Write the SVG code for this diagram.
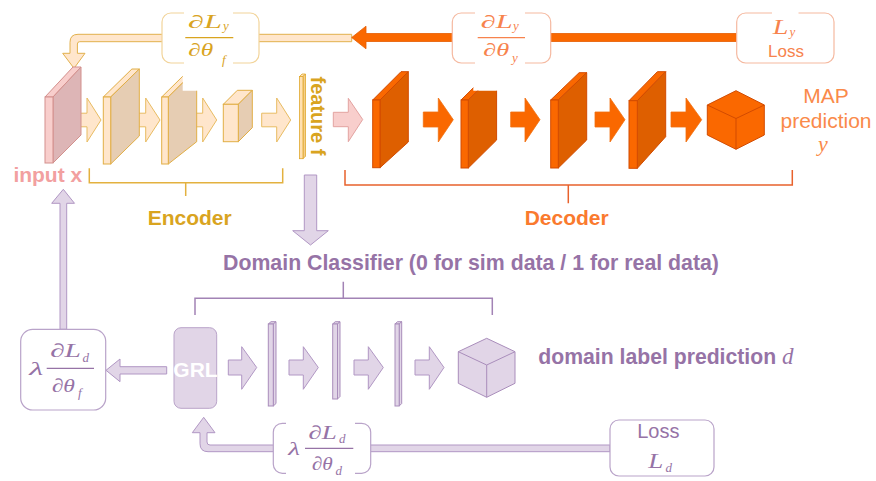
<svg xmlns="http://www.w3.org/2000/svg" width="876" height="481" viewBox="0 0 876 481">
  <style>
    .sans { font-family: "Liberation Sans", Arial, sans-serif; }
    .b { font-weight: bold; }
    .m { font-family: "Liberation Serif", "DejaVu Serif", serif; font-style: italic; }
    .gold { fill: #D9A41F; }
    .orng { fill: #F7834D; }
    .purp { fill: #9673A6; }
    .enc-f { fill: #FFE6CC; stroke: #E1AE45; stroke-width: 1; }
    .enc-s { fill: #E6CDB3; stroke: #E1AE45; stroke-width: 1; }
    .in-f { fill: #F8CECC; stroke: #D3908D; stroke-width: 1; }
    .in-s { fill: #DDB5B6; stroke: #D3908D; stroke-width: 1; }
    .dec-f { fill: #FA6800; stroke: #D24B00; stroke-width: 1; }
    .dec-s { fill: #DE5F00; stroke: #D24B00; stroke-width: 1; }
    .pu-f { fill: #E1D5E7; stroke: #A98DBB; stroke-width: 1; }
    .box { fill: #FFFFFF; stroke-width: 1.2; }
    .bar { stroke-width: 1.2; }
    .brk { fill: none; stroke-width: 1.5; }
  </style>
  <defs>
    <clipPath id="notchA">
      <rect x="0" y="90.7" width="876" height="400"/>
      <rect x="0" y="0" width="182.7" height="481"/>
    </clipPath>
    <clipPath id="notchB">
      <rect x="0" y="90.7" width="876" height="400"/>
      <rect x="0" y="0" width="473.3" height="481"/>
    </clipPath>
  </defs>

  <rect width="876" height="481" fill="#FFFFFF"/>

  <!-- connectors: gradient flows and forward arrows -->
  <g id="connectors">
    <!-- dLy/dtheta_f back to input (beige) -->
    <path d="M351.7,34.3 H78 Q70,34.3 70,42.3 V53.3 H62.7 L74,68.3 L85,53.3 H77.4 V44 Q77.4,41.7 79.7,41.7 H351.7 Z" fill="#FFE6CC" stroke="#E2B14D" stroke-width="1"/>
    <!-- loss gradient from L_y (orange) -->
    <path d="M736.7,33.5 H366 V26.2 L351.7,37.5 L366,48.8 V41.5 H736.7 Z" fill="#FA6800" stroke="#E55C00" stroke-width="0.8"/>
    <!-- lambda dLd/dtheta_f up to input -->
    <path d="M60,329.3 V203.3 H51.7 L63.3,189.3 L74.5,203.3 H66.7 V329.3 Z" fill="#E1D5E7" stroke="#B197C4" stroke-width="1"/>
    <!-- GRL to left gradient box -->
    <path d="M166.7,366.7 H120 V359 L106,370.3 L120,381.7 V374 H166.7 Z" fill="#E1D5E7" stroke="#B197C4" stroke-width="1"/>
    <!-- feature to domain classifier -->
    <path d="M304.3,175 V230.7 H292.7 L310.5,245 L328.3,230.7 H316.7 V175 Z" fill="#E1D5E7" stroke="#B197C4" stroke-width="1"/>
    <!-- Loss L_d back to GRL -->
    <path d="M610,445 H210 Q207,445 207,442 V432.7 H215 L203.7,417.3 L192.3,432.7 H200 V443.7 Q200,451.7 208,451.7 H610 Z" fill="#E1D5E7" stroke="#B197C4" stroke-width="1"/>

    <!-- encoder flow arrows -->
    <g fill="#FFE6CC" stroke="#E8BC62" stroke-width="1">
      <path d="M72,113.2 H87 V98 L101,120 L87,142 V126.8 H72 Z"/>
      <path d="M131.7,113.2 H145.7 V98 L160,120 L145.7,142 V126.8 H131.7 Z"/>
      <path d="M188.3,113.2 H202.7 V98 L216.7,120 L202.7,142 V126.8 H188.3 Z"/>
      <path d="M261.7,113.2 H276.7 V98 L290.7,120 L276.7,142 V126.8 H261.7 Z"/>
    </g>
    <!-- feature to decoder -->
    <path d="M333.3,112.3 H348.3 V98.3 L362.7,119.5 L348.3,141.7 V126.7 H333.3 Z" fill="#F8CECC" stroke="#E3A3A1" stroke-width="1"/>
    <!-- decoder flow arrows -->
    <g fill="#FA6800" stroke="#F07010" stroke-width="0.8">
      <path d="M423.3,112 H438.3 V98 L453.3,119.7 L438.3,142 V127 H423.3 Z"/>
      <path d="M510.7,112 H525 V98 L540,119.7 L525,142 V127 H510.7 Z"/>
      <path d="M595,112 H610 V98 L625,119.7 L610,142 V127 H595 Z"/>
      <path d="M671,112 H686 V98 L701.7,119.7 L686,142 V127 H671 Z"/>
    </g>
    <!-- domain classifier flow arrows -->
    <g fill="#E1D5E7" stroke="#B197C4" stroke-width="1">
      <path d="M228.3,360 H241.7 V346.7 L256.7,367.5 L241.7,389.3 V375 H228.3 Z"/>
      <path d="M289,360 H303.3 V346.7 L318.3,367.5 L303.3,389.3 V375 H289 Z"/>
      <path d="M354,360 H368.3 V346.7 L383.3,367.5 L368.3,389.3 V375 H354 Z"/>
      <path d="M415,360 H429.3 V346.7 L444,367.5 L429.3,389.3 V375 H415 Z"/>
    </g>
  </g>

  <!-- input block -->
  <g id="input">
    <polygon class="in-f" points="45,97 73,67 81,67 53,97"/>
    <polygon class="in-s" points="53,97 81,67 81,135 53,163"/>
    <rect class="in-f" x="45" y="97" width="8" height="66"/>
    <text class="sans b" x="47.8" y="181.7" font-size="21" text-anchor="middle" fill="#F2A0A0">input x</text>
  </g>

  <!-- encoder layers -->
  <g id="encoder">
    <g id="enc1">
      <polygon class="enc-f" points="103.3,97 131.9,69 139.3,69 110.7,97"/>
      <polygon class="enc-s" points="110.7,97 139.3,69 139.3,136 110.7,164"/>
      <rect class="enc-f" x="103.3" y="97" width="7.4" height="67"/>
    </g>
    <g id="enc2" clip-path="url(#notchA)">
      <polygon class="enc-f" points="161.7,97 190.1,69 196.7,69 168.3,97"/>
      <polygon class="enc-s" points="168.3,97 196.7,69 196.7,141.7 168.3,164"/>
      <rect class="enc-f" x="161.7" y="97" width="6.6" height="67"/>
    </g>
    <g id="enc3">
      <polygon class="enc-f" points="223.3,104.3 237.3,90.3 252.3,90.3 238.3,104.3"/>
      <polygon class="enc-s" points="238.3,104.3 252.3,90.3 252.3,127.7 238.3,141.7"/>
      <rect class="enc-f" x="223.3" y="104.3" width="15" height="37.4"/>
    </g>
    <path class="brk" stroke="#E3B13F" d="M89.3,168.3 V182.7 H282.7 V168.3 M185.7,182.7 V196"/>
    <text class="sans b gold" x="189.7" y="225" font-size="21" text-anchor="middle">Encoder</text>
  </g>

  <!-- feature vector -->
  <g id="feature">
    <polygon points="299.5,76.5 302,74 305.5,74 303,76.5" fill="#FFE0B0" stroke="#E0A82E" stroke-width="0.8"/>
    <polygon points="303,76.5 305.5,74 305.5,156.2 303,158.7" fill="#F5CF8A" stroke="#E0A82E" stroke-width="0.8"/>
    <rect x="299.5" y="76.5" width="3.5" height="82.2" fill="#FFE0B0" stroke="#E0A82E" stroke-width="0.8"/>
    <text class="sans b gold" font-size="20" text-anchor="middle" transform="translate(310.5,116) rotate(90)">feature f</text>
  </g>

  <!-- decoder layers -->
  <g id="decoder">
    <g id="dec1">
      <polygon class="dec-f" points="372.7,100 401,71.7 408.3,71.7 380,100"/>
      <polygon class="dec-s" points="380,100 408.3,71.7 408.3,142 380,167.7"/>
      <rect class="dec-f" x="372.7" y="100" width="7.3" height="67.7"/>
    </g>
    <g id="dec2" clip-path="url(#notchB)">
      <polygon class="dec-f" points="461,100 489.3,72 496.6,72 468.3,100"/>
      <polygon class="dec-s" points="468.3,100 496.6,72 496.6,140 468.3,168"/>
      <rect class="dec-f" x="461" y="100" width="7.3" height="68"/>
    </g>
    <g id="dec3">
      <polygon class="dec-f" points="550.7,100 579.1,72.7 586.7,72.7 558.3,100"/>
      <polygon class="dec-s" points="558.3,100 586.7,72.7 586.7,140 558.3,168"/>
      <rect class="dec-f" x="550.7" y="100" width="7.6" height="68"/>
    </g>
    <g id="dec4">
      <polygon class="dec-f" points="629,100.7 657.4,71.7 665.7,71.7 637.3,100.7"/>
      <polygon class="dec-s" points="637.3,100.7 665.7,71.7 665.7,136.7 637.3,168.3"/>
      <rect class="dec-f" x="629" y="100.7" width="8.3" height="67.6"/>
    </g>
    <g id="dec-out" fill="#FA6800" stroke="#D24B00" stroke-width="1" stroke-linejoin="round">
      <polygon points="736,90.7 764.3,105 764.3,135 736,149.3 707.3,135 707.3,105"/>
      <path d="M707.3,105 L736,118.5 L764.3,105 M736,118.5 V149.3" fill="none"/>
    </g>
    <path class="brk" stroke="#E8622C" d="M345,170 V185 H792.3 V170 M568.3,185 V203.3"/>
    <text class="sans b" x="566.7" y="225" font-size="21" text-anchor="middle" fill="#FA7A2E">Decoder</text>
  </g>

  <!-- prediction label -->
  <g id="map-pred">
    <text class="sans" x="826" y="103.3" font-size="21" text-anchor="middle" fill="#FA8A4A">MAP</text>
    <text class="sans" x="826" y="128.3" font-size="21" text-anchor="middle" fill="#FA8A4A">prediction</text>
    <text class="m" x="818" y="151" font-size="22" fill="#FA8A4A">y</text>
  </g>

  <!-- gradient dLy/dtheta_f -->
  <g id="grad-f">
    <rect class="box" x="162" y="13" width="97" height="50" rx="9" stroke="#F2D49A"/>
    <rect x="184" y="10" width="49" height="57" fill="#FFFFFF"/>
    <text class="m gold" x="188" y="27.5" font-size="18" textLength="34" lengthAdjust="spacingAndGlyphs">∂L</text>
    <text class="m gold" x="223" y="30" font-size="13">y</text>
    <line class="bar" x1="185.3" y1="37.7" x2="233.3" y2="37.7" stroke="#D9A41F"/>
    <text class="m gold" x="188.3" y="55.5" font-size="18" textLength="25" lengthAdjust="spacingAndGlyphs">∂θ</text>
    <text class="m gold" x="222" y="64" font-size="13">f</text>
  </g>

  <!-- gradient dLy/dtheta_y -->
  <g id="grad-y">
    <rect class="box" x="452.3" y="13" width="98.4" height="50" rx="9" stroke="#F5B9A0"/>
    <rect x="475" y="10" width="50" height="57" fill="#FFFFFF"/>
    <text class="m orng" x="480.7" y="27.5" font-size="18" textLength="32" lengthAdjust="spacingAndGlyphs">∂L</text>
    <text class="m orng" x="513" y="30" font-size="13">y</text>
    <line class="bar" x1="477.7" y1="37.7" x2="525" y2="37.7" stroke="#F7834D"/>
    <text class="m orng" x="483.3" y="55.5" font-size="18" textLength="26" lengthAdjust="spacingAndGlyphs">∂θ</text>
    <text class="m orng" x="512" y="62" font-size="13">y</text>
  </g>

  <!-- loss L_y -->
  <g id="loss-y">
    <rect class="box" x="736.7" y="13" width="97.3" height="50" rx="9" stroke="#F5B9A0"/>
    <rect x="772" y="10" width="26.5" height="6" fill="#FFFFFF"/>
    <text class="m orng" x="772.7" y="33.5" font-size="20" textLength="15.6" lengthAdjust="spacingAndGlyphs">L</text>
    <text class="m orng" x="789.5" y="36" font-size="13">y</text>
    <text class="sans orng" x="786" y="57.3" font-size="17" text-anchor="middle">Loss</text>
  </g>

  <!-- domain classifier -->
  <g id="domain">
    <text class="sans b purp" x="471" y="270" font-size="21.3" text-anchor="middle">Domain Classifier (0 for sim data / 1 for real data)</text>
    <path class="brk" stroke="#A283B5" d="M195,315 V298.3 H492.3 V315 M343.3,298.3 V281.7"/>
    <g id="grl">
      <rect x="174" y="327.7" width="42.7" height="80.6" rx="7" fill="#E1D5E7" stroke="#B9A3C9" stroke-width="1"/>
      <text class="sans b" x="195.5" y="376.7" font-size="21" text-anchor="middle" fill="#FFFFFF">GRL</text>
    </g>
    <g id="layer1">
      <polygon class="pu-f" points="268.3,324 271,321.7 276,321.7 273.3,324"/>
      <polygon class="pu-f" points="273.3,324 276,321.7 276,403.5 273.3,406"/>
      <rect class="pu-f" x="268.3" y="324" width="5" height="82"/>
    </g>
    <g id="layer2">
      <polygon class="pu-f" points="332.7,324 335.2,321.7 340,321.7 337.5,324"/>
      <polygon class="pu-f" points="337.5,324 340,321.7 340,396.5 337.5,399"/>
      <rect class="pu-f" x="332.7" y="324" width="4.8" height="75"/>
    </g>
    <g id="layer3">
      <polygon class="pu-f" points="395,324 397.5,321.7 401.7,321.7 399.2,324"/>
      <polygon class="pu-f" points="399.2,324 401.7,321.7 401.7,403.5 399.2,406"/>
      <rect class="pu-f" x="395" y="324" width="4.2" height="82"/>
    </g>
    <g id="dom-out" fill="#E1D5E7" stroke="#A98DBB" stroke-width="1" stroke-linejoin="round">
      <polygon points="486.7,338.3 515,351.7 515,383.3 486.7,397.3 458.3,383.3 458.3,351.7"/>
      <path d="M458.3,351.7 L486.7,365 L515,351.7 M486.7,365 V397.3" fill="none"/>
    </g>
    <text class="sans b purp" x="538.3" y="364.3" font-size="21.2">domain label prediction</text>
    <text class="m purp" x="782" y="364.3" font-size="23">d</text>
  </g>

  <!-- gradient lambda dLd/dtheta_f -->
  <g id="grad-df">
    <rect class="box" x="20.7" y="329.3" width="85" height="80.7" rx="12" stroke="#B9A3C9"/>
    <text class="m purp" x="29.3" y="375" font-size="19" textLength="14" lengthAdjust="spacingAndGlyphs">λ</text>
    <text class="m purp" x="50" y="357" font-size="19" textLength="31" lengthAdjust="spacingAndGlyphs">∂L</text>
    <text class="m purp" x="82.5" y="361.7" font-size="13">d</text>
    <line class="bar" x1="46.7" y1="368.3" x2="94" y2="368.3" stroke="#9673A6"/>
    <text class="m purp" x="51.7" y="392" font-size="19" textLength="23.3" lengthAdjust="spacingAndGlyphs">∂θ</text>
    <text class="m purp" x="78" y="397" font-size="13">f</text>
  </g>

  <!-- gradient lambda dLd/dtheta_d -->
  <g id="grad-dd">
    <rect class="box" x="273.3" y="423.3" width="97.4" height="50" rx="9" stroke="#B9A3C9"/>
    <rect x="286" y="420" width="69" height="57" fill="#FFFFFF"/>
    <text class="m purp" x="288.3" y="455" font-size="19" textLength="11.7" lengthAdjust="spacingAndGlyphs">λ</text>
    <text class="m purp" x="308.3" y="438.5" font-size="19" textLength="28.4" lengthAdjust="spacingAndGlyphs">∂L</text>
    <text class="m purp" x="339" y="442.5" font-size="13">d</text>
    <line class="bar" x1="305" y1="448.3" x2="353.3" y2="448.3" stroke="#9673A6"/>
    <text class="m purp" x="311.7" y="470" font-size="19" textLength="21" lengthAdjust="spacingAndGlyphs">∂θ</text>
    <text class="m purp" x="335.5" y="475" font-size="13">d</text>
  </g>

  <!-- loss L_d -->
  <g id="loss-d">
    <rect class="box" x="610" y="420" width="104" height="56" rx="9" stroke="#B9A3C9"/>
    <text class="sans purp" x="658.3" y="438.3" font-size="20" text-anchor="middle">Loss</text>
    <text class="m purp" x="648.3" y="468.3" font-size="20" textLength="15" lengthAdjust="spacingAndGlyphs">L</text>
    <text class="m purp" x="665.5" y="472" font-size="13">d</text>
  </g>
</svg>
